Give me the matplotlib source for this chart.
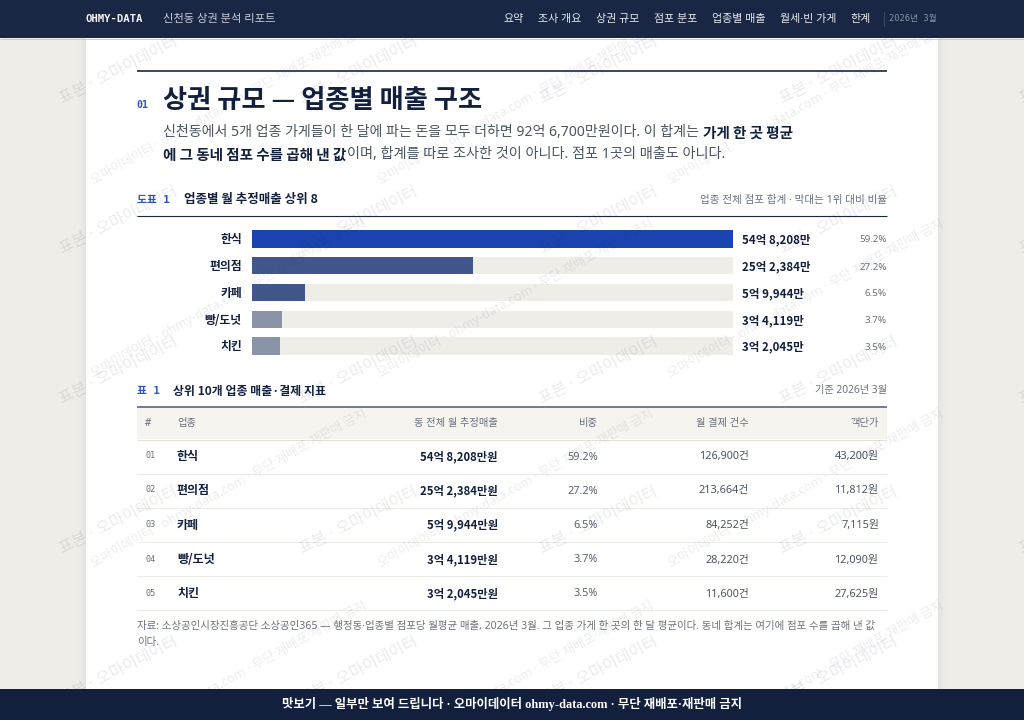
import matplotlib
matplotlib.use("Agg")
import matplotlib.pyplot as plt
from matplotlib.patches import Rectangle

KR = ['Noto Sans', 'Noto Sans CJK KR', 'DejaVu Sans']
KRB = ['Noto Sans CJK KR', 'DejaVu Sans']
MONO = ['DejaVu Sans Mono', 'Noto Sans CJK KR']
SERIF = ['Liberation Serif', 'Noto Sans CJK KR']
plt.rcParams['font.family'] = KR

# ---------- data ----------
nav_items = ['요약', '조사 개요', '상권 규모', '점포 분포', '업종별 매출', '월세·빈 가게', '한계']
categories = ['한식', '편의점', '카페', '빵/도넛', '치킨']
sales_manwon = [548208, 252384, 59944, 34119, 32045]
sales_short = ['54억 8,208만', '25억 2,384만', '5억 9,944만', '3억 4,119만', '3억 2,045만']
sales_full = ['54억 8,208만원', '25억 2,384만원', '5억 9,944만원', '3억 4,119만원', '3억 2,045만원']
shares = ['59.2%', '27.2%', '6.5%', '3.7%', '3.5%']
payments = ['126,900건', '213,664건', '84,252건', '28,220건', '11,600건']
unit_price = ['43,200원', '11,812원', '7,115원', '12,090원', '27,625원']
row_numbers = ['01', '02', '03', '04', '05']
bar_colors = ['#1C44B0', '#41578C', '#41578C', '#8A93A8', '#8A93A8']
table_headers = ['#', '업종', '동 전체 월 추정매출', '비중', '월 결제 건수', '객단가']

NAVY = '#12203E'
INK = '#1A2744'
GRAY = '#6B7280'
BLUE = '#2F55C4'
PX = 0.72

fig = plt.figure(figsize=(10.24, 7.2), dpi=100, facecolor='#EEEDE8')


def pixel_axes(z):
    ax = fig.add_axes([0, 0, 1, 1], zorder=z)
    ax.set_xlim(0, 1024)
    ax.set_ylim(720, 0)
    ax.axis('off')
    ax.patch.set_alpha(0)
    return ax


base = pixel_axes(0)
top = pixel_axes(5)


def T(ax, x, y, s, px, color=INK, weight='normal', ha='left', va='center', family=None, **kw):
    if family is None:
        family = KRB if weight == 'bold' else KR
    dy = 1 if (family is KR and va == 'center') else 0
    return ax.text(x, y + dy, s, fontsize=px * PX, color=color, fontweight=weight, ha=ha, va=va,
                   family=family, **kw)


def hline(ax, y, x0, x1, color, lw_px=1.0):
    ax.plot([x0, x1], [y, y], color=color, lw=lw_px * PX, solid_capstyle='butt')


# sheet and shadow
for i in range(8):
    a = 0.035 * (8 - i) / 8
    base.add_patch(Rectangle((86 - i - 1, 38), 1, 651, fc='#000000', alpha=a, ec='none'))
    base.add_patch(Rectangle((938 + i, 38), 1, 651, fc='#000000', alpha=a, ec='none'))
base.add_patch(Rectangle((86, 38), 852, 651, fc='white', ec='none'))

# section heading
hline(base, 71, 137, 887, NAVY, 1.6)
T(base, 136.5, 105.5, '01', 10, color=BLUE, weight='bold', family=MONO)
T(base, 163, 101, '상권 규모 — 업종별 매출 구조', 26.2, color=NAVY, weight='bold')
T(base, 163, 132, '신천동에서 5개 업종 가게들이 한 달에 파는 돈을 모두 더하면 92억 6,700만원이다. 이 합계는', 14.05, color='#4B5563')
T(base, 703, 133, '가게 한 곳 평균', 14.6, color=NAVY, weight='bold')
T(base, 163, 155, '에 그 동네 점포 수를 곱해 낸 값', 14.6, color=NAVY, weight='bold')
T(base, 347, 154, '이며, 합계를 따로 조사한 것이 아니다. 점포 1곳의 매출도 아니다.', 14.2, color='#4B5563')

# figure caption
T(base, 137, 200, '도표 1', 10.8, color=BLUE, weight='bold', family=MONO)
T(base, 184, 200, '업종별 월 추정매출 상위 8', 12.5, color=NAVY, weight='bold')
T(base, 887, 199, '업종 전체 점포 합계 · 막대는 1위 대비 비율', 10.6, color=GRAY, ha='right')
hline(base, 216, 137, 887, INK, 1.1)

# bars
bar_ax = fig.add_axes([252 / 1024, 1 - 359.5 / 720, (733 - 252) / 1024, (359.5 - 225.5) / 720], zorder=1)
bar_ax.axis('off')
positions = list(range(len(categories)))
top_value = max(sales_manwon)
bar_ax.barh(positions, [100] * len(categories), height=0.655, color='#EFEDE8', linewidth=0)
bar_ax.barh(positions, [v / top_value * 100 for v in sales_manwon], height=0.655, color=bar_colors, linewidth=0)
bar_ax.set_xlim(0, 100)
bar_ax.set_ylim(4.5, -0.5)

bar_rows = [239, 266, 293, 319.5, 346]
for y, c, s, p in zip(bar_rows, categories, sales_short, shares):
    T(base, 242, y + 0.5, c, 11.8, color=NAVY, weight='bold', ha='right')
    T(base, 742, y + 1, s, 11.5, color=NAVY, weight='bold')
    T(base, 887, y, p, 9.8, color=GRAY, ha='right')

# table caption
T(base, 137, 391, '표 1', 10.8, color=BLUE, weight='bold', family=MONO)
T(base, 173, 391, '상위 10개 업종 매출·결제 지표', 11.9, color=NAVY, weight='bold')
T(base, 887, 390, '기준 2026년 3월', 10.2, color=GRAY, ha='right')

# table
base.add_patch(Rectangle((137, 407), 750, 32, fc='#F5F4EF', ec='none'))
hline(base, 407, 137, 887, '#4A5570', 1.5)
hline(base, 439.5, 137, 887, '#E2E0D9', 1)
hx = [145, 177, 498, 598, 749, 879]
has = ['left', 'left', 'right', 'right', 'right', 'right']
for x, a, s in zip(hx, has, table_headers):
    T(base, x, 422.5, s, 10.3, color=GRAY, ha=a, family=MONO if s == '#' else KR)

table_rows = [455.5, 489.5, 524, 558.5, 592.5]
separators = [473.5, 507.5, 542, 575.5, 610]
for y, sep, n, c, s, p, q, u in zip(table_rows, separators, row_numbers, categories, sales_full,
                                     shares, payments, unit_price):
    T(base, 145, y + 0.5, n, 8.5, color=GRAY, family=MONO)
    T(base, 177, y + 1, c, 12, color=NAVY, weight='bold')
    T(base, 498, y + 1, s, 11.3, color=NAVY, weight='bold', ha='right')
    T(base, 598, y + 0.5, p, 10.9, color='#5B6472', ha='right')
    T(base, 749, y + 0.5, q, 10.8, color='#4B5563', ha='right')
    T(base, 879, y + 0.5, u, 10.9, color='#4B5563', ha='right')
    hline(base, sep, 137, 887, '#ECEBE6', 1)

# footnote
T(base, 137, 625, '자료: 소상공인시장진흥공단 소상공인365 — 행정동·업종별 점포당 월평균 매출, 2026년 3월. 그 업종 가게 한 곳의 한 달 평균이다. 동네 합계는 여기에 점포 수를 곱해 낸 값', 10.5, color=GRAY)
T(base, 137, 641, '이다.', 10.5, color=GRAY)

# watermarks
sheet_clip = Rectangle((86, 38), 852, 651, transform=top.transData, fc='none', ec='none')
top.add_patch(sheet_clip)
for x0 in [94, 381, 671]:
    for y0 in [184, 377, 567, 759]:
        t = T(top, x0, y0, '오마이데이터 · ohmy-data.com · 무단 재배포·재판매 금지', 12.8, color='#1A2744',
              va='baseline', rotation=29, rotation_mode='anchor', alpha=0.085)
        t.set_clip_path(sheet_clip)
for x0 in [63, 303, 543, 783, 1023]:
    for y0 in [104, 254, 404, 554, 704]:
        T(top, x0, y0, '표본 · 오마이데이터', 16, color='#1A2744', va='baseline', rotation=27,
          rotation_mode='anchor', alpha=0.095, clip_on=True)

# nav
top.add_patch(Rectangle((0, 0), 1024, 38, fc='#1A2744', ec='none', zorder=5))
hline(top, 38.5, 0, 1024, '#C9CCD3', 1)
T(top, 85, 19, 'OHMY-DATA', 10.6, color='#F4F5F7', weight='bold', family=MONO, zorder=6)
T(top, 163, 18.5, '신천동 상권 분석 리포트', 11.3, color='#C6CBD6', zorder=6)
nav_x = [504, 538, 596, 654, 712, 780, 850]
for x, s in zip(nav_x, nav_items):
    T(top, x, 18.5, s, 11, color='#E6E8ED', zorder=6)
top.plot([884, 884], [12, 26], color='#3C4866', lw=PX, zorder=6)
T(top, 889, 19, '2026년 3월', 8.8, color='#8A93A8', family=MONO, zorder=6)

# footer
top.add_patch(Rectangle((0, 689), 1024, 31, fc=NAVY, ec='none', zorder=5))
hline(top, 688.5, 0, 1024, '#C9CCD3', 1)
T(top, 512, 704, '맛보기 — 일부만 보여 드립니다 · 오마이데이터 ohmy-data.com · 무단 재배포·재판매 금지', 12.4,
  color='white', weight='bold', ha='center', family=SERIF, zorder=6)

fig.savefig('out.png', dpi=100, facecolor=fig.get_facecolor())
